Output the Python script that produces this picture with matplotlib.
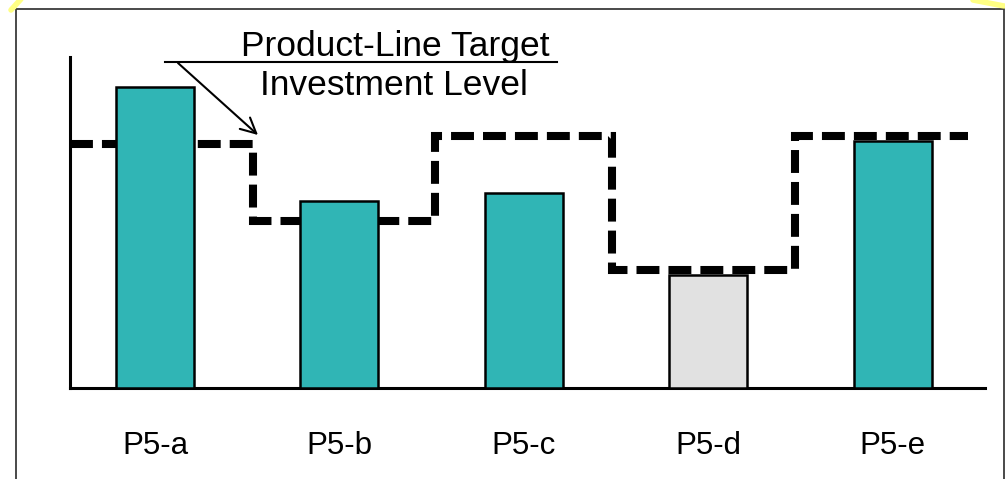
import matplotlib
matplotlib.use("Agg")
import matplotlib.pyplot as plt
from matplotlib import transforms
from matplotlib.patches import Rectangle
from matplotlib.lines import Line2D

plt.rcParams['font.family'] = ['Liberation Sans', 'DejaVu Sans']
plt.rcParams['lines.scale_dashes'] = False

# --- data -------------------------------------------------------------
products = ["P5-a", "P5-b", "P5-c", "P5-d", "P5-e"]
investment = [91, 56.5, 59, 34, 74.5]          # current investment per product
target_level = [73.7, 50.5, 76.1, 35.6, 76.1]  # product-line target level
below_target = [False, False, False, True, False]

TEAL = "#30B5B5"
GREY = "#E1E1E1"

W, H = 1005, 479
fig = plt.figure(figsize=(W / 100, H / 100), dpi=100)
fig.patch.set_facecolor("white")

# transform taking pixel coordinates measured from the top-left corner
px = transforms.Affine2D().scale(1 / W, -1 / H).translate(0, 1) + fig.transFigure

# plot area
ax_l, ax_r, ax_t, ax_b = 70, 985, 57, 388
ax = fig.add_axes([ax_l / W, 1 - ax_b / H, (ax_r - ax_l) / W, (ax_b - ax_t) / H])
ax.set_facecolor("none")

x = list(range(len(products)))
ax.set_xlim(-0.461, 4.501)
ax.set_ylim(0, 100)

colors = [GREY if b else TEAL for b in below_target]
ax.bar(x, investment, width=0.423, color=colors, edgecolor="black",
       linewidth=1.8, zorder=3)

# stepped target line; step edges fall between neighbouring products
edges = [-0.461, 0.53, 1.52, 2.48, 3.47, 4.41]
sx, sy = [], []
for i, lvl in enumerate(target_level):
    sx += [edges[i], edges[i + 1]]
    sy += [lvl, lvl]
ax.plot(sx, sy, color="black", linewidth=5.8, dashes=(16.5, 6.5),
        solid_joinstyle="miter", dash_joinstyle="miter", dash_capstyle="butt",
        zorder=2)

for side in ("top", "right"):
    ax.spines[side].set_visible(False)
for side in ("left", "bottom"):
    ax.spines[side].set_linewidth(2.2)
    ax.spines[side].set_color("black")
ax.set_yticks([])
ax.set_xticks(x)
ax.set_xticklabels(products, fontsize=22.5)
ax.tick_params(axis="x", length=0, pad=31)

# callout for the target line
fig.text(395, 56, "Product-Line Target", transform=px, fontsize=25.5,
         ha="center", va="baseline")
fig.text(394, 95, "Investment Level", transform=px, fontsize=25.5,
         ha="center", va="baseline")
fig.add_artist(Line2D([165, 557], [62.5, 62.5], transform=px,
                      color="black", linewidth=1.5))
ax.annotate("", xy=(258, 135), xycoords=px, xytext=(178, 63), textcoords=px,
            arrowprops=dict(arrowstyle="->,head_length=1.1,head_width=0.55",
                            color="black", linewidth=1.5,
                            shrinkA=0, shrinkB=0))

# slide frame
fig.add_artist(Rectangle((16, 9), 988, 480, transform=px, fill=False,
                         edgecolor="#3a3a3a", linewidth=1.3))

# yellow highlight edges peeking in at the top corners
fig.add_artist(Line2D([11, 21], [10, -1], transform=px, color="#FFFF66",
                      linewidth=4, alpha=0.8, solid_capstyle="round"))
fig.add_artist(Line2D([973, 1004], [0, 6], transform=px, color="#FFFF66",
                      linewidth=4, alpha=0.8, solid_capstyle="round"))

fig.savefig("out.png", dpi=100)
